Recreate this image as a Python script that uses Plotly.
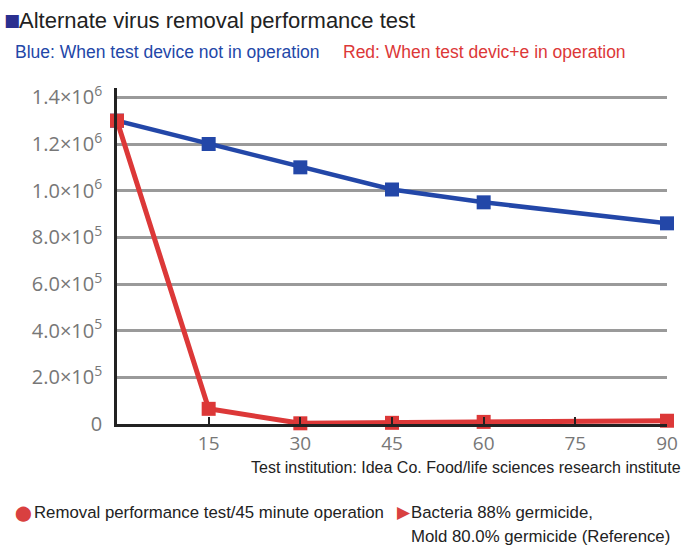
import plotly.graph_objects as go

minutes = [0, 15, 30, 45, 60, 90]
blue_values = [1.30e6, 1.20e6, 1.10e6, 1.005e6, 0.95e6, 0.86e6]
red_minutes = [0, 15, 30, 45, 60, 90]
red_values = [1.30e6, 6.5e4, 3.0e3, 5.0e3, 9.0e3, 1.4e4]
x_ticks = [15, 30, 45, 60, 75, 90]
y_ticks = [0, 2e5, 4e5, 6e5, 8e5, 1.0e6, 1.2e6, 1.4e6]
y_tick_labels = ["0", "2.0×10<sup>5</sup>", "4.0×10<sup>5</sup>", "6.0×10<sup>5</sup>",
                 "8.0×10<sup>5</sup>", "1.0×10<sup>6</sup>", "1.2×10<sup>6</sup>", "1.4×10<sup>6</sup>"]

BLUE = "#2347a8"
RED = "#dc3838"

W, H = 690, 546
L, R, T, B = 117, 667, 88, 424

fig = go.Figure()
fig.add_trace(go.Scatter(x=minutes, y=blue_values, mode="lines+markers",
                         line=dict(color=BLUE, width=4.5),
                         marker=dict(symbol="square", size=14, color=BLUE),
                         cliponaxis=False, showlegend=False))
fig.add_trace(go.Scatter(x=red_minutes, y=red_values, mode="lines+markers",
                         line=dict(color=RED, width=5),
                         marker=dict(symbol="square", size=14, color=RED),
                         cliponaxis=False, showlegend=False))

def px(x):
    return (x - L) / (R - L)

def py(y):
    return (B - y) / (B - T)

annos = [
    dict(x=px(2), y=py(20), text="■", font=dict(size=17, color="#2b2f8f", family="DejaVu Sans")),
    dict(x=px(17), y=py(20), text="Alternate virus removal performance test",
         font=dict(size=22, color="#222", family="Liberation Sans")),
    dict(x=px(13), y=py(52), text="Blue: When test device not in operation",
         font=dict(size=17.5, color=BLUE, family="Liberation Sans")),
    dict(x=px(341), y=py(52), text="Red: When test devic+e in operation",
         font=dict(size=17.5, color=RED, family="Liberation Sans")),
    dict(x=px(249), y=py(467), text="Test institution: Idea Co. Food/life sciences research institute",
         font=dict(size=16, color="#222", family="Liberation Sans")),
    dict(x=px(13), y=py(513), text="⬤", font=dict(size=15, color="#d94040", family="DejaVu Sans")),
    dict(x=px(32), y=py(512), text="Removal performance test/45 minute operation",
         font=dict(size=16.8, color="#222", family="Liberation Sans")),
    dict(x=px(395), y=py(512), text="▶", font=dict(size=17, color="#d94040", family="DejaVu Sans")),
    dict(x=px(409), y=py(512), text="Bacteria 88% germicide,",
         font=dict(size=16.8, color="#222", family="Liberation Sans")),
    dict(x=px(409), y=py(536), text="Mold 80.0% germicide (Reference)",
         font=dict(size=16.8, color="#222", family="Liberation Sans")),
]
for a in annos:
    a.update(xref="paper", yref="paper", xanchor="left", yanchor="middle", showarrow=False)

fig.update_layout(
    width=W, height=H,
    margin=dict(l=L, r=W - R, t=T, b=H - B, pad=0),
    paper_bgcolor="white", plot_bgcolor="white",
    annotations=annos,
    xaxis=dict(range=[0, 90], tickvals=x_ticks, ticks="inside", ticklen=7, tickwidth=2,
               tickcolor="#222", showline=True, linecolor="#222", linewidth=2.5,
               showgrid=False, zeroline=False,
               tickfont=dict(size=19, color="#777", family="Open Sans")),
    yaxis=dict(range=[0, 1.44e6], tickvals=y_ticks, ticktext=y_tick_labels,
               showline=True, linecolor="#222", linewidth=2.5, ticks="", ticklabelstandoff=8,
               showgrid=True, gridcolor="#9a9a9a", gridwidth=3, zeroline=False,
               tickfont=dict(size=20, color="#777", family="Open Sans")),
)

fig.write_html("out.html", config={"displayModeBar": False},
               post_script="document.body.style.margin='0';document.body.style.overflow='hidden';")
